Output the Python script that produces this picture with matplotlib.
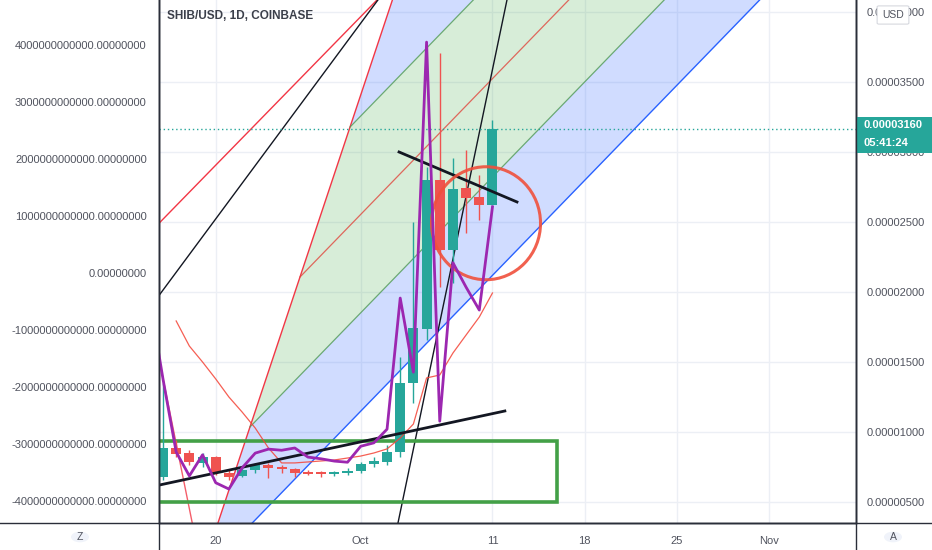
import numpy as np
import pandas as pd
import matplotlib
matplotlib.use('Agg')
import matplotlib.pyplot as plt
import matplotlib.dates as mdates
from matplotlib.patches import Ellipse, Rectangle, Polygon, FancyBboxPatch, Circle
from matplotlib.lines import Line2D

plt.rcParams['font.family'] = ['Liberation Sans', 'DejaVu Sans']

# daily candles, prices in units of 1e-6 USD
dates = pd.date_range('2021-09-16', '2021-10-11', freq='D')
opens = [6.76, 8.84, 8.48, 7.76, 8.19, 7.05, 6.84, 7.26, 7.62, 7.41, 7.34, 7.12, 7.05,
         6.98, 7.05, 7.19, 7.69, 7.84, 8.55, 13.48, 17.34, 27.98, 22.98, 27.41, 26.75, 26.19]
highs = [13.48, 9.41, 8.69, 8.48, 8.26, 7.26, 7.48, 7.76, 7.76, 7.62, 7.41, 7.26, 7.19,
         7.19, 7.41, 7.84, 8.19, 9.05, 15.34, 24.96, 28.91, 37.05, 29.55, 30.12, 28.34, 32.26]
lows = [6.55, 8.19, 7.62, 7.48, 6.91, 6.55, 6.76, 7.05, 6.69, 7.05, 6.76, 6.91, 6.76,
        6.84, 6.91, 7.05, 7.48, 7.62, 8.19, 12.05, 16.55, 20.34, 20.62, 24.19, 25.12, 26.19]
closes = [8.84, 8.41, 7.84, 8.19, 7.05, 6.76, 7.26, 7.62, 7.41, 7.34, 7.05, 6.98, 6.98,
          7.05, 7.19, 7.69, 7.91, 8.55, 13.48, 17.41, 27.98, 22.98, 27.34, 26.69, 26.19, 31.60]

# purple indicator on the left scale, units of 1e12
osc_dates = pd.date_range('2021-09-15', '2021-10-11', freq='D')
osc_vals = [-0.46, -1.86, -3.14, -3.56, -3.19, -3.68, -3.79, -3.42, -3.16, -3.09, -3.11,
            -3.07, -3.23, -3.26, -3.30, -3.32, -3.04, -2.98, -2.74, -0.44, -1.74, 4.05,
            -2.60, 0.18, -0.25, -0.65, 1.16]

# thin red average line, units of 1e-6
ma_dates = pd.date_range('2021-09-17', '2021-10-11', freq='D')
ma_vals = [17.91, 16.12, 14.98, 13.77, 12.48, 11.41, 10.26, 8.84, 7.77, 7.77, 7.84, 7.91,
           7.98, 8.12, 8.26, 8.48, 8.77, 9.55, 10.55, 13.84, 14.05, 15.62, 16.91, 18.19, 19.91]

last_price = 31.60
last_label = '0.00003160'
countdown = '05:41:24'

x_tick_dates = ['2021-09-20', '2021-10-01', '2021-10-11', '2021-10-18', '2021-10-25', '2021-11-01']
x_tick_labels = ['20', 'Oct', '11', '18', '25', 'Nov']
price_ticks = [5, 10, 15, 20, 25, 30, 35, 40]
left_ticks = [-4, -3, -2, -1, 0, 1, 2, 3, 4]

# drawings: (days from Oct 1, price in 1e-6)
pf_a = (-12.19, 13.69)
pf_b = (-0.81, 31.76)
pf_c = (-8.40, 10.34)
red_trend = [(-15.28, 24.91), (1.24, 40.84)]
black_trend = [(-15.28, 19.76), (1.31, 40.84)]
black_steep = [(2.83, 3.48), (11.10, 40.84)]
black_support = [(-15.28, 6.19), (10.94, 11.48)]
black_short = [(2.91, 29.98), (11.86, 26.41)]
red_short = [(-15.28, 15.12), (-12.78, 3.48)]
box = (-20.0, 4.98, 14.89, 9.34)          # x0, y0, x1, y1
circle = (9.51, 24.89, 8.27, 8.07)         # cx, cy, width, height

base = mdates.date2num(pd.Timestamp('2021-10-01'))
S = 1e-6

W, H = 932, 550
fig = plt.figure(figsize=(W / 100, H / 100), dpi=100)
fig.patch.set_facecolor('white')
ax = fig.add_axes([159.3 / W, 27 / H, 696.4 / W, 523 / H])
ax.set_xlim(base - 15.28, base + 37.56)
ax.set_ylim(3.479 * S, 40.836 * S)

teal, red = '#26a69a', '#ef5350'

# pitchfork fills
A, B, C = np.array(pf_a), np.array(pf_b), np.array(pf_c)
M = (B + C) / 2
d = (M - A) * 10
B2, C2 = B + (B - M), C + (C - M)
def band(p, q, color):
    pts = np.array([p, q, q + d, p + d])
    pts[:, 0] += base
    pts[:, 1] *= S
    ax.add_patch(Polygon(pts, closed=True, facecolor=color, edgecolor='none', zorder=1))
band(B2, B, (41/255, 98/255, 255/255, 0.22))
band(B, M, (76/255, 175/255, 80/255, 0.22))
band(M, C, (76/255, 175/255, 80/255, 0.22))
band(C, C2, (41/255, 98/255, 255/255, 0.22))

def seg(p, q, **kw):
    ax.plot([base + p[0], base + q[0]], [p[1] * S, q[1] * S], **kw)

seg(B2, C2, color='#f23645', lw=1, zorder=2)
seg(M, M + d, color='#e0463c', lw=0.9, alpha=0.8, zorder=2)
seg(B, B + d, color='#4f9a55', lw=0.9, alpha=0.8, zorder=2)
seg(C, C + d, color='#4f9a55', lw=0.9, alpha=0.8, zorder=2)
seg(C2, C2 + d, color='#2962ff', lw=1, zorder=2)

# grid
for t in x_tick_dates:
    ax.axvline(mdates.date2num(pd.Timestamp(t)), color='#eceff5', lw=1, zorder=0)
for p in price_ticks:
    ax.axhline(p * S, color='#eceff5', lw=1, zorder=0)

# other drawings
seg(*red_trend, color='#f23645', lw=1, zorder=3)
seg(*black_trend, color='#131722', lw=1, zorder=3)
seg(*black_steep, color='#131722', lw=1, zorder=3)
seg(*red_short, color='#f23645', lw=1, alpha=0.8, zorder=3)

ax.add_patch(Rectangle((base + box[0], box[1] * S), box[2] - box[0], (box[3] - box[1]) * S,
                       facecolor='none', edgecolor='#43a047', lw=2.6, zorder=3))

# close price dotted line
ax.axhline(last_price * S, color=teal, lw=1, ls=(0, (1, 2)), zorder=3)

# candles
xd = mdates.date2num(dates)
for x, o, h, l, c in zip(xd, opens, highs, lows, closes):
    col = teal if c >= o else red
    ax.vlines(x, l * S, h * S, color=col, lw=1, zorder=4)
    ax.bar(x, max(abs(c - o), 0.15) * S, bottom=min(o, c) * S, width=0.76,
           color=col, zorder=4)

ax.plot(mdates.date2num(ma_dates), np.array(ma_vals) * S, color='#f44336', lw=0.9,
        alpha=0.85, zorder=5)

seg(*black_support, color='#131722', lw=2, zorder=6)
seg(*black_short, color='#131722', lw=2, zorder=6)

ax.add_patch(Ellipse((base + circle[0], circle[1] * S), circle[2], circle[3] * S,
                     facecolor='none', edgecolor='#f0503c', lw=2.2, alpha=0.9, zorder=6))

ax.set_xticks([mdates.date2num(pd.Timestamp(t)) for t in x_tick_dates])
ax.set_xticklabels(x_tick_labels)

# left scale for the oscillator
ax2 = ax.twinx()
ax2.set_ylim(-4.386e12, 4.789e12)
ax2.plot(mdates.date2num(osc_dates), np.array(osc_vals) * 1e12, color='#9c27b0', lw=2,
         zorder=7)
ax2.yaxis.tick_left()
ax2.set_yticks([v * 1e12 for v in left_ticks])
ax2.set_yticklabels(['%.8f' % (v * 1e12) for v in left_ticks])
ax2.tick_params(axis='y', length=0, labelsize=8, colors='#50535e', pad=9)

# right price scale (after twinx, which moves ticks)
ax.yaxis.tick_right()
ax.set_yticks([p * S for p in price_ticks])
ax.set_yticklabels(['%.8f' % (p * S) for p in price_ticks])
ax.tick_params(axis='both', length=0, labelsize=8, colors='#50535e')
ax.tick_params(axis='y', pad=8)
ax.tick_params(axis='x', pad=9)

for a in (ax, ax2):
    a.spines['top'].set_visible(False)
    for s in ('left', 'right', 'bottom'):
        a.spines[s].set_color('#2a2e39')
        a.spines[s].set_linewidth(1)

# frame lines running to the figure edges
fig.add_artist(Line2D([0, 1], [27 / H, 27 / H], color='#2a2e39', lw=1))
fig.add_artist(Line2D([159.3 / W, 159.3 / W], [0, 1], color='#2a2e39', lw=1))
fig.add_artist(Line2D([855.7 / W, 855.7 / W], [0, 1], color='#2a2e39', lw=1))

fig.text(167 / W, 1 - 16 / H, 'SHIB/USD, 1D, COINBASE', fontsize=8.5, fontweight='bold',
         color='#3b3f4a', va='center', ha='left')

# last price tag
fig.add_artist(Rectangle((857 / W, 1 - 153 / H), 75 / W, 36 / H, facecolor=teal,
                         edgecolor='none', transform=fig.transFigure))
fig.text(864 / W, 1 - 125 / H, last_label, fontsize=8, fontweight='bold', color='white',
         va='center', ha='left')
fig.text(864 / W, 1 - 143 / H, countdown, fontsize=8, fontweight='bold', color='white',
         va='center', ha='left')

# USD badge and corner buttons
fig.add_artist(FancyBboxPatch((879 / W, 1 - 23 / H), 28 / W, 16 / H,
                              boxstyle='round,pad=0.002', facecolor='white',
                              edgecolor='#d6d8de', lw=0.8, transform=fig.transFigure))
fig.text(893 / W, 1 - 15 / H, 'USD', fontsize=7.5, color='#50535e', va='center', ha='center')
for cx, ch in ((80, 'Z'), (893, 'A')):
    fig.add_artist(Circle((cx / W, 1 - 537 / H), 9 / W, facecolor='#f0f3fa',
                          edgecolor='none', transform=fig.transFigure))
    fig.text(cx / W, 1 - 537 / H, ch, fontsize=7.5, color='#50535e', va='center', ha='center')

fig.savefig('out.png', dpi=100)
